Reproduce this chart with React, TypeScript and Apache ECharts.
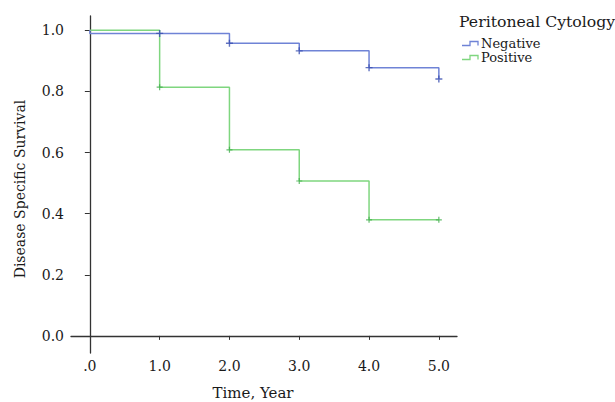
import React, { useEffect, useRef } from "react";
import * as echarts from "echarts";

const times = [0, 1, 2, 3, 4, 5];
const xTickValues = [0, 1, 2, 3, 4, 5];
const yTickValues = [0, 0.2, 0.4, 0.6, 0.8, 1.0];
const startSurvival = 1.0;
const negativeSurvival = [0.99, 0.99, 0.958, 0.933, 0.878, 0.841];
const positiveSurvival = [1.0, 0.814, 0.609, 0.507, 0.38, 0.38];
const negativeCensored = [1, 2, 3, 4, 5];
const positiveCensored = [1, 2, 3, 4, 5];
const legendTitle = "Peritoneal Cytology";
const groupNames = ["Negative", "Positive"];
const xAxisTitle = "Time, Year";
const yAxisTitle = "Disease Specific Survival";

const FONT = "'DejaVu Serif', serif";
const TEXT = "#1a1a1a";
const BLUE_LINE = "#6f83d6";
const BLUE_MARK = "#3a4fb0";
const GREEN_LINE = "#7fd67f";
const GREEN_MARK = "#3fae4a";
const CROSS = "path://M4,0h2v4h4v2h-4v4h-2v-4h-4v-2h4z";

function stepData(values: number[]) {
  const pts: number[][] = [[0, startSurvival]];
  times.forEach((t, i) => pts.push([t, values[i]]));
  return pts;
}
function censorData(values: number[], at: number[]) {
  return at.map((t) => [t, values[times.indexOf(t)]]);
}

export default function App() {
  const ref = useRef<HTMLDivElement>(null);
  useEffect(() => {
    document.body.style.margin = "0";
    const chart = echarts.init(ref.current!, null, { renderer: "svg" });
    const legendIcon = (y: number, color: string) => ({
      type: "polyline",
      shape: { points: [[462, y + 2], [470, y + 2], [470, y - 2], [478, y - 2], [478, y + 2]] },
      style: { stroke: color, fill: null, lineWidth: 1.3 },
    });
    chart.setOption({
      animation: false,
      backgroundColor: "#ffffff",
      grid: { left: 71, top: 16, right: 158, bottom: 49, containLabel: false },
      xAxis: {
        type: "value",
        min: -0.27,
        max: 5.26,
        axisLine: { show: true, lineStyle: { color: "#333", width: 1.3 } },
        axisTick: { show: true, length: 4, customValues: xTickValues, lineStyle: { color: "#333" } },
        axisLabel: {
          customValues: xTickValues,
          margin: 6,
          fontFamily: FONT,
          fontSize: 14,
          color: TEXT,
          formatter: (v: number) => (v === 0 ? ".0" : v.toFixed(1)),
        },
        splitLine: { show: false },
      },
      yAxis: {
        type: "value",
        min: -0.056,
        max: 1.047,
        axisLine: { show: true, lineStyle: { color: "#333", width: 1.3 } },
        axisTick: { show: true, length: 5, customValues: yTickValues, lineStyle: { color: "#333" } },
        axisLabel: {
          customValues: yTickValues,
          margin: 7,
          fontFamily: FONT,
          fontSize: 14,
          color: TEXT,
          formatter: (v: number) => v.toFixed(1),
        },
        splitLine: { show: false },
      },
      series: [
        {
          name: groupNames[0],
          type: "line",
          step: "end",
          data: stepData(negativeSurvival),
          showSymbol: false,
          lineStyle: { color: BLUE_LINE, width: 1.5 },
          z: 3,
        },
        {
          name: groupNames[1],
          type: "line",
          step: "end",
          data: stepData(positiveSurvival),
          showSymbol: false,
          lineStyle: { color: GREEN_LINE, width: 1.5 },
          z: 2,
        },
        {
          type: "scatter",
          data: censorData(negativeSurvival, negativeCensored),
          symbol: CROSS,
          symbolSize: 7,
          itemStyle: { color: BLUE_MARK },
          z: 4,
        },
        {
          type: "scatter",
          data: censorData(positiveSurvival, positiveCensored),
          symbol: CROSS,
          symbolSize: 6,
          itemStyle: { color: GREEN_MARK },
          z: 4,
        },
      ],
      graphic: [
        {
          type: "text",
          x: 459,
          y: 21,
          style: { text: legendTitle, fontFamily: FONT, fontSize: 15.7, fill: TEXT, align: "left", verticalAlign: "middle" },
        },
        legendIcon(43.5, BLUE_LINE),
        legendIcon(57.5, GREEN_LINE),
        {
          type: "text",
          x: 481,
          y: 43,
          style: { text: groupNames[0], fontFamily: FONT, fontSize: 13, fill: TEXT, align: "left", verticalAlign: "middle" },
        },
        {
          type: "text",
          x: 481,
          y: 57.5,
          style: { text: groupNames[1], fontFamily: FONT, fontSize: 13, fill: TEXT, align: "left", verticalAlign: "middle" },
        },
        {
          type: "text",
          x: 253,
          y: 393,
          style: { text: xAxisTitle, fontFamily: FONT, fontSize: 15, fill: TEXT, align: "center", verticalAlign: "middle" },
        },
        {
          type: "text",
          x: 20,
          y: 189,
          rotation: Math.PI / 2,
          style: { text: yAxisTitle, fontFamily: FONT, fontSize: 14, fill: TEXT, align: "center", verticalAlign: "middle" },
        },
      ],
    });
    return () => chart.dispose();
  }, []);
  return <div ref={ref} style={{ width: 615, height: 402 }} />;
}
